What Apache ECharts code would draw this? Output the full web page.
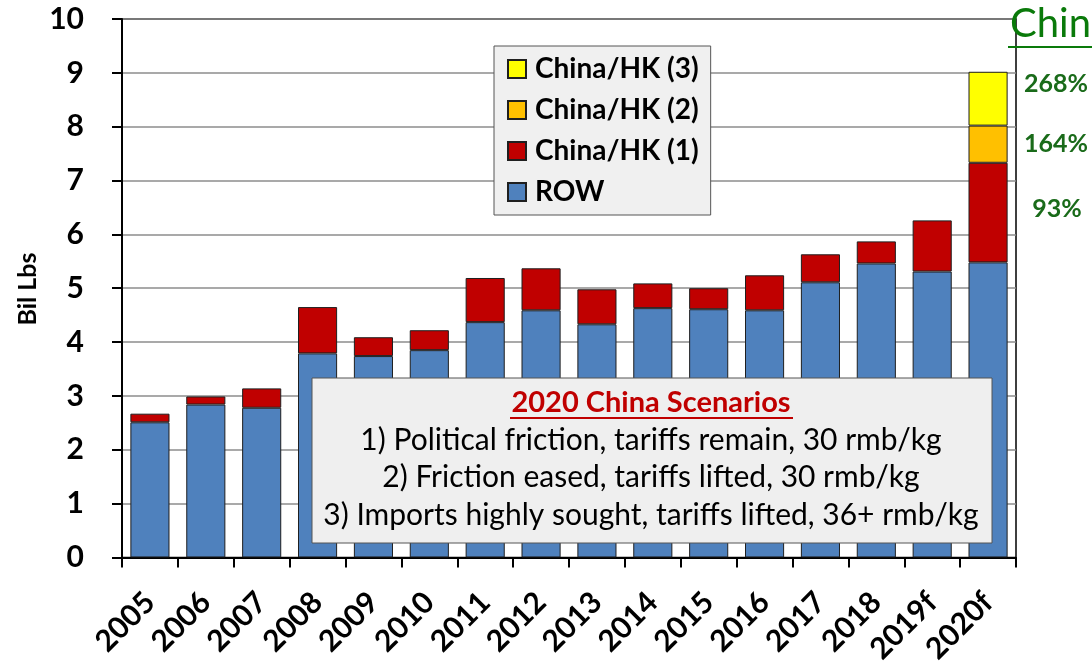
<!DOCTYPE html>
<html>
<head>
<meta charset="utf-8">
<script src="https://cdn.jsdelivr.net/npm/echarts@6/dist/echarts.min.js"></script>
<style>
  html, body { margin: 0; padding: 0; background: #fff; }
  #chart { width: 1092px; height: 667px; }
</style>
</head>
<body>
<div id="chart"></div>
<script>
var years = ['2005', '2006', '2007', '2008', '2009', '2010', '2011', '2012', '2013', '2014', '2015', '2016', '2017', '2018', '2019f', '2020f'];
var row_vals = [2.51, 2.84, 2.78, 3.79, 3.74, 3.85, 4.37, 4.59, 4.33, 4.63, 4.61, 4.59, 5.11, 5.46, 5.31, 5.48];
var china1_vals = [0.16, 0.15, 0.36, 0.86, 0.35, 0.37, 0.82, 0.78, 0.65, 0.46, 0.39, 0.65, 0.52, 0.41, 0.95, 1.85];
var china2_vals = [null, null, null, null, null, null, null, null, null, null, null, null, null, null, null, 0.69];
var china3_vals = [null, null, null, null, null, null, null, null, null, null, null, null, null, null, null, 1.0];
var pct_labels = ['268%', '164%', '93%'];
var scenario_title = '2020 China Scenarios';
var scenario_lines = [
    '1) Political friction, tariffs remain, 30 rmb/kg',
    '2) Friction eased, tariffs lifted, 30 rmb/kg',
    '3) Imports highly sought, tariffs lifted, 36+ rmb/kg'
];

var FONT = 'Lato';
var GREEN = '#1a6b1a';

var myChart = echarts.init(document.getElementById('chart'));

function barSeries(name, data, color) {
    return {
        name: name,
        type: 'bar',
        stack: 'total',
        data: data,
        barCategoryGap: '30%',
        itemStyle: {
            color: color,
            borderColor: '#1f1f1f',
            borderWidth: 1
        }
    };
}

function txt(x, y, s, font, fill, align) {
    return {
        type: 'text', z: 101, x: x, y: y,
        style: { text: s, align: align || 'center', verticalAlign: 'middle', fill: fill, font: font }
    };
}

var option = {
    animation: false,
    backgroundColor: '#ffffff',
    textStyle: { fontFamily: FONT },
    grid: {
        left: 122,
        right: 76,
        top: 19,
        bottom: 108,
        show: true,
        borderColor: '#000',
        borderWidth: 1.5
    },
    legend: {
        orient: 'vertical',
        left: 494,
        top: 46,
        data: ['China/HK (3)', 'China/HK (2)', 'China/HK (1)', 'ROW'],
        itemWidth: 18,
        itemHeight: 18,
        itemGap: 11,
        padding: [8, 12, 8, 13],
        backgroundColor: '#f0f0f0',
        borderColor: '#555',
        borderWidth: 1,
        icon: 'rect',
        textStyle: {
            fontFamily: FONT,
            fontSize: 28,
            fontWeight: 'bold',
            color: '#000',
            lineHeight: 30,
            padding: [0, 0, 0, 4]
        }
    },
    xAxis: {
        type: 'category',
        data: years,
        axisLine: { lineStyle: { color: '#000', width: 2 } },
        axisTick: { show: true, length: 10, lineStyle: { color: '#000', width: 2 } },
        axisLabel: {
            rotate: 45,
            margin: 40,
            interval: 0,
            color: '#000',
            fontFamily: FONT,
            fontSize: 30,
            fontWeight: 'bold'
        }
    },
    yAxis: {
        type: 'value',
        min: 0,
        max: 10,
        interval: 1,
        axisLine: { show: true, lineStyle: { color: '#000', width: 2 } },
        axisTick: { show: true, length: 10, lineStyle: { color: '#000', width: 2 } },
        axisLabel: {
            margin: 38,
            color: '#000',
            fontFamily: FONT,
            fontSize: 30,
            fontWeight: 'bold'
        },
        splitLine: { lineStyle: { color: '#8c8c8c', width: 1.5 } }
    },
    series: [
        barSeries('ROW', row_vals, '#4f81bd'),
        barSeries('China/HK (1)', china1_vals, '#c00000'),
        barSeries('China/HK (2)', china2_vals, '#ffc000'),
        barSeries('China/HK (3)', china3_vals, '#ffff00')
    ],
    graphic: [
        {
            type: 'text', z: 101, x: 28, y: 289, rotation: Math.PI / 2,
            style: { text: 'Bil Lbs', align: 'center', verticalAlign: 'middle', fill: '#000', font: 'bold 25px ' + FONT }
        },
        {
            type: 'rect',
            z: 100,
            shape: { x: 312, y: 378, width: 680, height: 165 },
            style: { fill: '#efefef', stroke: '#555', lineWidth: 1 }
        },
        txt(651, 403, scenario_title, 'bold 29px ' + FONT, '#c00000'),
        {
            type: 'line',
            z: 101,
            shape: { x1: 510, y1: 418, x2: 793, y2: 418 },
            style: { stroke: '#c00000', lineWidth: 2 }
        },
        txt(651, 440, scenario_lines[0], '30px ' + FONT, '#000'),
        txt(651, 477, scenario_lines[1], '30px ' + FONT, '#000'),
        txt(651, 515, scenario_lines[2], '30px ' + FONT, '#000'),
        txt(1010, 24, 'China', '40px ' + FONT, '#0a7a0a', 'left'),
        {
            type: 'line', z: 101,
            shape: { x1: 1008, y1: 47, x2: 1092, y2: 47 },
            style: { stroke: '#0a7a0a', lineWidth: 2 }
        },
        txt(1056, 84, pct_labels[0], 'bold 25px ' + FONT, GREEN),
        txt(1056, 144, pct_labels[1], 'bold 25px ' + FONT, GREEN),
        txt(1057, 209, pct_labels[2], 'bold 25px ' + FONT, GREEN)
    ]
};

myChart.setOption(option);
</script>
</body>
</html>
